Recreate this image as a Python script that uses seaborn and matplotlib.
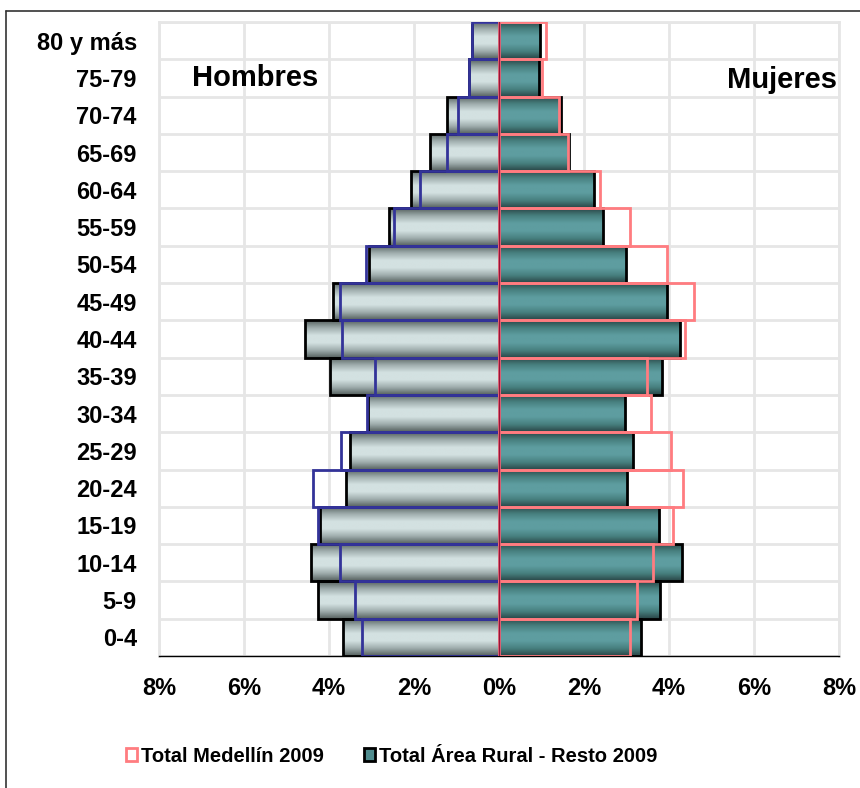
import numpy as np
import pandas as pd
import seaborn as sns
import matplotlib.pyplot as plt
from matplotlib.colors import LinearSegmentedColormap
from matplotlib.patches import Patch
from matplotlib.lines import Line2D

# grupos de edad, de arriba hacia abajo
grupos = ['80 y más', '75-79', '70-74', '65-69', '60-64', '55-59', '50-54', '45-49',
          '40-44', '35-39', '30-34', '25-29', '20-24', '15-19', '10-14', '5-9', '0-4']

hombres_rural = [0.64, 0.70, 1.23, 1.62, 2.08, 2.60, 3.05, 3.90, 4.56, 3.98, 3.08, 3.51, 3.60, 4.21, 4.42, 4.25, 3.66]
hombres_medellin = [0.64, 0.70, 0.96, 1.23, 1.86, 2.46, 3.13, 3.74, 3.69, 2.91, 3.10, 3.72, 4.37, 4.27, 3.74, 3.39, 3.23]
mujeres_rural = [0.97, 0.95, 1.46, 1.65, 2.23, 2.44, 2.99, 3.95, 4.26, 3.83, 2.96, 3.16, 3.02, 3.77, 4.30, 3.79, 3.33]
mujeres_medellin = [1.10, 1.02, 1.40, 1.63, 2.38, 3.08, 3.95, 4.59, 4.38, 3.49, 3.58, 4.05, 4.34, 4.09, 3.63, 3.24, 3.08]

ticks_x = [-8, -6, -4, -2, 0, 2, 4, 6, 8]

sns.set_style("white")
plt.rcParams['font.family'] = ['Liberation Sans', 'DejaVu Sans']
plt.rcParams['font.weight'] = 'bold'
plt.rcParams['text.color'] = 'black'
plt.rcParams['xtick.color'] = 'black'
plt.rcParams['ytick.color'] = 'black'

df = pd.DataFrame({'grupo': grupos,
                   'h_rural': -np.array(hombres_rural),
                   'h_med': -np.array(hombres_medellin),
                   'm_rural': mujeres_rural,
                   'm_med': mujeres_medellin})

fig = plt.figure(figsize=(8.6, 7.88), dpi=100)
ax = fig.add_axes([159 / 860, 1 - 656 / 788, 680 / 860, 634 / 788])


def degradado(ax, patches, colores):
    # relleno con degradado vertical tipo excel
    cmap = LinearSegmentedColormap.from_list('grad', colores)
    grad = np.linspace(0, 1, 80).reshape(-1, 1)
    for p in patches:
        x0, y0 = p.get_x(), p.get_y()
        w, h = p.get_width(), p.get_height()
        im = ax.imshow(grad, cmap=cmap, extent=[x0, x0 + w, y0 + h, y0], aspect='auto',
                       zorder=1.5, interpolation='bilinear')
        im.set_clip_path(p)
        p.set_facecolor('none')
        p.set_zorder(2)


# barras area rural (rellenas)
n0 = len(ax.patches)
sns.barplot(data=df, x='h_rural', y='grupo', orient='h', width=1.0, color='#d4e2e2',
            edgecolor='black', linewidth=2, errorbar=None, ax=ax)
hom = ax.patches[n0:]
n1 = len(ax.patches)
sns.barplot(data=df, x='m_rural', y='grupo', orient='h', width=1.0, color='#5e9da0',
            edgecolor='black', linewidth=2, errorbar=None, ax=ax)
muj = ax.patches[n1:]
degradado(ax, hom, ['#56615f', '#9eacac', '#d3e1e1', '#d3e1e1', '#9eacac', '#56615f'])
degradado(ax, muj, ['#2a4647', '#47807f', '#5e9da0', '#5e9da0', '#47807f', '#2a4647'])

# barras medellin (solo contorno)
n2 = len(ax.patches)
sns.barplot(data=df, x='h_med', y='grupo', orient='h', width=1.0, color='#333399',
            fill=False, linewidth=2, errorbar=None, ax=ax)
sns.barplot(data=df, x='m_med', y='grupo', orient='h', width=1.0, color='#ff7c80',
            fill=False, linewidth=2, errorbar=None, ax=ax)
for p in ax.patches[n2:]:
    p.set_zorder(3)

ax.axvline(0, color='#99143a', lw=1, zorder=4)

ax.set_xlim(-8, 8)
ax.set_ylim(len(grupos) - 0.5, -0.5)
ax.set_xticks(ticks_x)
ax.set_xticklabels(['%d%%' % abs(t) for t in ticks_x])
ax.set_yticks(np.arange(-0.5, len(grupos), 1), minor=True)
ax.set_xlabel('')
ax.set_ylabel('')

# rejilla gris clara
ax.set_axisbelow(True)
ax.xaxis.grid(True, color='#e6e6e6', lw=2)
ax.yaxis.grid(True, which='minor', color='#e6e6e6', lw=2)
ax.yaxis.grid(False, which='major')
for s in ['left', 'top', 'right']:
    ax.spines[s].set_color('#e6e6e6')
    ax.spines[s].set_linewidth(2)
ax.spines['bottom'].set_color('black')
ax.spines['bottom'].set_linewidth(1)

ax.tick_params(axis='y', which='both', length=0, pad=16, labelsize=17, labelcolor='black')
ax.tick_params(axis='x', length=5.5, width=1, color='black', direction='out', pad=9.5,
               labelsize=17, labelcolor='black')
for lab in ax.get_xticklabels() + ax.get_yticklabels():
    lab.set_fontweight('bold')

ax.text(0.048, 0.899, 'Hombres', transform=ax.transAxes, fontsize=21, fontweight='bold',
        ha='left', va='baseline', color='black')
ax.text(0.9966, 0.896, 'Mujeres', transform=ax.transAxes, fontsize=21, fontweight='bold',
        ha='right', va='baseline', color='black')

# leyenda
handles = [Patch(facecolor='white', edgecolor='#ff7c80', lw=2, label='Total Medellín 2009'),
           Patch(facecolor='#4f8c8e', edgecolor='black', lw=2, label='Total Área Rural - Resto 2009')]
leg = fig.legend(handles=handles, loc='center left', bbox_to_anchor=(126 / 860, 1 - 756 / 788),
                 ncol=2, frameon=False, borderpad=0, borderaxespad=0, handlelength=0.55,
                 handleheight=0.65, handletextpad=0.2, columnspacing=2.0,
                 prop={'family': ['Liberation Sans Narrow', 'Liberation Sans'], 'weight': 'bold', 'size': 14.5})
for t in leg.get_texts():
    t.set_color('black')

# marco exterior
fig.add_artist(Line2D([6 / 860, 6 / 860], [0, 1 - 11 / 788], transform=fig.transFigure, color='#333333', lw=1.2))
fig.add_artist(Line2D([6 / 860, 1], [1 - 11 / 788, 1 - 11 / 788], transform=fig.transFigure, color='#333333', lw=1.2))

fig.savefig('out.png', dpi=100)
